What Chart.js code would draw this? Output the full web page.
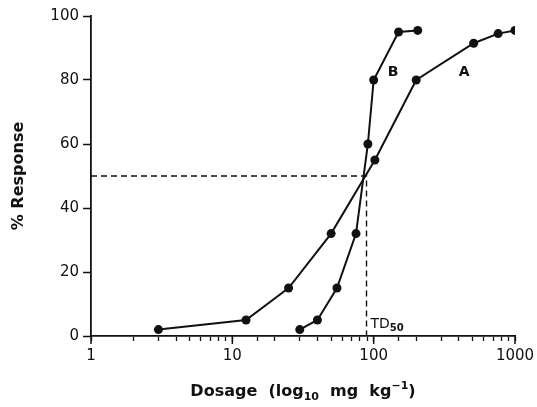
<!DOCTYPE html>
<html>
<head>
<meta charset="utf-8">
<script src="https://cdn.jsdelivr.net/npm/chart.js@4"></script>
<style>
html, body { margin: 0; padding: 0; background: #fff; }
</style>
</head>
<body>
<canvas id="myChart" width="537" height="407"></canvas>
<script>
// curva A: dose (mg/kg) e risposta (%)
const doseA = [3, 12.5, 25, 50, 102, 200, 510, 760, 1000];
const respA = [2, 5, 15, 32, 55, 80, 91.5, 94.5, 95.5];

// curva B
const doseB = [30, 40, 55, 75, 91, 100, 150, 205];
const respB = [2, 5, 15, 32, 60, 80, 95, 95.5];

// dose che da' il 50% di risposta
const td50 = 89;

const xMajor = [1, 10, 100, 1000];
const yTicks = [0, 20, 40, 60, 80, 100];

const FONT = "'DejaVu Sans', sans-serif";

function toPoints(xs, ys) {
    return xs.map((x, i) => ({ x: x, y: ys[i] }));
}

// titoli, etichette A / B / TD50 e tacche maggiori
const extraPlugin = {
    id: 'extra',
    afterDraw(chart) {
        const ctx = chart.ctx;
        const xs = chart.scales.x;
        const ys = chart.scales.y;
        const area = chart.chartArea;
        ctx.save();
        ctx.fillStyle = '#111';
        ctx.strokeStyle = '#111';

        // tacche maggiori un po' piu' lunghe
        ctx.lineWidth = 1.5;
        xMajor.forEach(v => {
            const px = xs.getPixelForValue(v);
            ctx.beginPath();
            ctx.moveTo(px, area.bottom);
            ctx.lineTo(px, area.bottom + 8);
            ctx.stroke();
        });

        // etichette curve
        ctx.font = 'bold 14px ' + FONT;
        ctx.textAlign = 'center';
        ctx.textBaseline = 'middle';
        ctx.fillText('B', xs.getPixelForValue(137), ys.getPixelForValue(82.5));
        ctx.fillText('A', xs.getPixelForValue(436), ys.getPixelForValue(82.5));

        // TD50
        let tx = xs.getPixelForValue(td50) + 4;
        const ty = ys.getPixelForValue(4);
        ctx.textAlign = 'left';
        ctx.textBaseline = 'alphabetic';
        ctx.font = '14px ' + FONT;
        ctx.fillText('TD', tx, ty + 5);
        tx += ctx.measureText('TD').width;
        ctx.font = 'bold 10px ' + FONT;
        ctx.fillText('50', tx, ty + 8);

        // titolo asse y
        ctx.font = 'bold 16px ' + FONT;
        ctx.save();
        ctx.translate(19, (area.top + area.bottom) / 2);
        ctx.rotate(-Math.PI / 2);
        ctx.textAlign = 'center';
        ctx.textBaseline = 'middle';
        ctx.fillText('% Response', 0, 0);
        ctx.restore();

        // titolo asse x con pedice e apice
        const parts = [
            { t: 'Dosage  (log', f: 'bold 16px ' + FONT, dy: 0 },
            { t: '10', f: 'bold 11px ' + FONT, dy: 4 },
            { t: '  mg  kg', f: 'bold 16px ' + FONT, dy: 0 },
            { t: '\u22121', f: 'bold 11px ' + FONT, dy: -7 },
            { t: ')', f: 'bold 16px ' + FONT, dy: 0 }
        ];
        let w = 0;
        parts.forEach(p => { ctx.font = p.f; w += ctx.measureText(p.t).width; });
        let cx = (area.left + area.right) / 2 - w / 2;
        const by = 396;
        ctx.textAlign = 'left';
        ctx.textBaseline = 'alphabetic';
        parts.forEach(p => {
            ctx.font = p.f;
            ctx.fillText(p.t, cx, by + p.dy);
            cx += ctx.measureText(p.t).width;
        });
        ctx.restore();
    }
};

const ctx = document.getElementById('myChart').getContext('2d');
const chart = new Chart(ctx, {
    type: 'scatter',
    data: {
        datasets: [{
            label: 'A',
            data: toPoints(doseA, respA),
            showLine: true,
            borderColor: '#111',
            backgroundColor: '#111',
            borderWidth: 2,
            pointRadius: 4.5,
            pointBorderWidth: 0
        }, {
            label: 'B',
            data: toPoints(doseB, respB),
            showLine: true,
            borderColor: '#111',
            backgroundColor: '#111',
            borderWidth: 2,
            pointRadius: 4.5,
            pointBorderWidth: 0
        }, {
            label: 'TD50',
            data: [{ x: 1, y: 50 }, { x: td50, y: 50 }, { x: td50, y: 0 }],
            showLine: true,
            borderColor: '#111',
            borderWidth: 1.4,
            borderDash: [6, 4],
            pointRadius: 0
        }]
    },
    options: {
        responsive: false,
        animation: false,
        layout: {
            padding: { left: 0, top: 16, right: 22, bottom: 0 }
        },
        plugins: {
            legend: { display: false },
            tooltip: { enabled: false }
        },
        scales: {
            x: {
                type: 'logarithmic',
                min: 1,
                max: 1000,
                afterFit: s => { s.height = 71; s.paddingRight = 0; s.paddingLeft = 0; },
                grid: {
                    drawOnChartArea: false,
                    drawTicks: true,
                    tickLength: 5,
                    tickWidth: 1.3,
                    tickColor: '#111'
                },
                border: { color: '#111', width: 1.8 },
                ticks: {
                    autoSkip: false,
                    maxRotation: 0,
                    padding: 6,
                    color: '#111',
                    font: { family: FONT, size: 15 },
                    callback: v => xMajor.includes(v) ? String(v) : ''
                }
            },
            y: {
                min: 0,
                max: 100,
                afterFit: s => { s.width = 91; },
                afterBuildTicks: s => { s.ticks = yTicks.map(v => ({ value: v })); },
                grid: {
                    drawOnChartArea: false,
                    drawTicks: true,
                    tickLength: 8,
                    tickWidth: 1.5,
                    tickColor: '#111'
                },
                border: { color: '#111', width: 1.8 },
                ticks: {
                    padding: 4,
                    color: '#111',
                    font: { family: FONT, size: 15 }
                }
            }
        }
    },
    plugins: [extraPlugin]
});
</script>
</body>
</html>
